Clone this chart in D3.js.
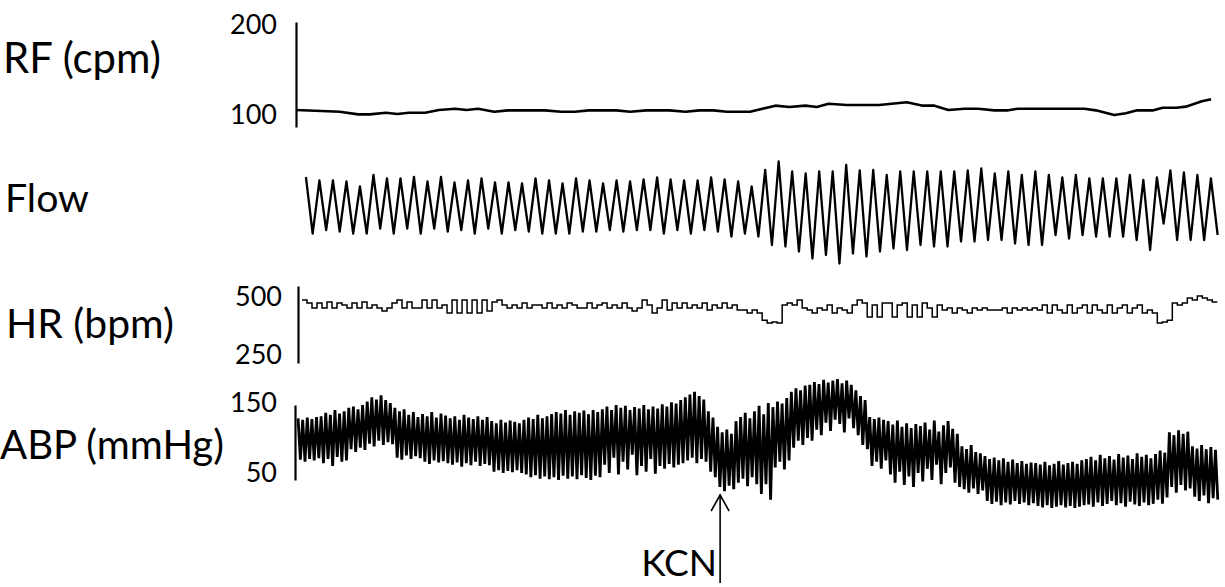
<!DOCTYPE html>
<html>
<head>
<meta charset="utf-8">
<script src="https://cdn.jsdelivr.net/npm/d3@7"></script>
<style>
  body { margin: 0; background: #fff; }
  svg { display: block; }
</style>
</head>
<body>
<svg id="chart" width="1225" height="587"></svg>
<script>
// ---- data (time in s) ----
var rfTime = [0,1.1,1.9,2.7,3.2,3.9,4.4,4.9,5.6,6.2,6.9,7.4,7.9,8.6,9.2,10.8,11.5,12.1,12.7,13.9,14.5,15.2,16.2,16.9,17.5,18.1,18.7,19.7,20.8,21.4,22.1,22.6,23.1,23.9,25.3,26.5,27.2,27.7,28.3,29.0,29.6,30.3,30.9,31.3,34.2,34.7,35.5,36.0,36.5,37.2,37.6,38.2,38.6,39.3,39.7];
var rfValue = [105.6,104.4,103.7,100.7,100.7,102.6,101.1,102.6,102.6,105.6,107.0,105.6,107.0,103.7,105.2,105.2,103.7,103.7,105.2,105.2,103.7,105.2,105.2,103.7,105.2,105.2,103.7,103.7,110.4,108.9,110.4,108.9,112.6,111.1,111.1,114.1,110.4,110.4,105.6,107.0,107.0,105.2,105.2,107.0,107.0,105.2,100.0,101.9,105.2,105.2,108.1,108.1,109.3,115.2,117.4];
var rfTicks = [100, 200];

// flow: one peak and one trough per breath (arbitrary units)
var flowStart = 0.43, flowHalfStep = 0.293;
var flowPeak = [70,63,63,61,51,74,67,67,70,61,70,59,63,67,59,59,57,67,63,57,67,63,
  57,63,61,65,69,65,63,63,69,65,61,51,84,101,81,77,81,81,94,83,84,74,81,81,
  81,81,81,83,87,77,81,74,81,74,69,74,67,67,67,74,64,69,83,79,74,67];
var flowTrough = [-43,-36,-39,-43,-43,-33,-43,-33,-43,-33,-39,-36,-43,-33,-43,-36,-39,-43,-43,-43,-39,
  -39,-36,-39,-36,-36,-43,-36,-43,-36,-39,-49,-43,-49,-66,-69,-79,-93,-86,-103,-83,-89,-79,-73,-76,
  -66,-69,-69,-59,-59,-56,-56,-63,-66,-66,-46,-53,-46,-49,-49,-49,-56,-76,-23,-56,-56,-56,-46];

// heart rate, one value per sample step (bpm)
var hrStart = 0.26, hrStep = 0.217;
var hrValue = [487,474,
  453,474,453,478,453,474,466,453,474,453,478,453,466,
  453,440,453,474,
  487,453,478,453,453,487,453,487,453,466,
  431,487,431,487,431,487,431,487,440,478,
  487,466,453,
  466,453,474,453,466,466,453,474,453,466,453,474,466,453,453,474,453,466,474,453,466,453,474,453,
  440,453,487,466,431,453,487,444,474,453,
  474,453,466,453,474,444,466,453,474,453,466,444,
  444,431,444,
  431,400,388,392,388,
  466,474,466,
  487,453,444,
  431,453,444,466,431,453,444,431,466,
  487,
  474,414,466,414,474,474,414,466,474,414,466,414,474,453,414,466,
  444,453,431,453,444,431,453,444,453,444,444,444,453,431,453,444,453,444,453,444,
  466,431,466,444,431,466,431,453,466,431,466,444,431,466,431,453,466,431,453,466,431,444,431,
  388,392,400,
  474,466,474,
  496,487,504,496,487,478];
var hrTicks = [250, 500];

// arterial pressure, systolic / diastolic per beat (mmHg)
var abpStart = 0.09, abpBeat = 0.2;
var abpSys = [128,126,129,127,130, 131,136,133,140,135,138, 143,145,141,147, 152,158,155,161,154,150,
  143,138,141,133,137,130, 134,131,137,129,135,132, 128,131,126,133,129,127,131,126,130,
  124,121,126,122,125,123,121, 126,129,127,133,128,131, 134,137,135,140,133,138,136,139,134,140,137,
  141,145,140,147,143,146,140,144,142,147,141,145, 142,148,145,151,149,154, 158,162,166,160,155,
  138,129, 116,108,112,106, 124,130,136,128,138, 146,134,150, 144,152,149,157, 166,171,168,175,
  176,180,177,183,179,182, 184,178,182,176, 168,160,154, 130,127,129,126,
  124,119,125,116,121,114,120,117, 122,112,125,109,118,124,113,106, 88,84,90,80,78,
  74,70,72,68,71,66,69,64,67,63,65, 64,62,66,61,63,67,62,64,66,63,68,
  70,73,68,76,71,74,69,77,72,75,70,78,73,76,71, 77,82,79, 108,104,111,106,109, 88,85,90,84,87,83];
var abpDia = [69,66,70,68,71, 64,70,60,73,66,68, 84,80,86,83, 92,88,96,90,94,91,
  72,69,75,70,74,71, 66,63,68,65,67,64, 62,65,59,64,61,66,60,63,61,
  52,54,50,53,51,54,50, 48,44,47,42,45,41, 44,40,46,42,45,41,47,43,40,46,44,
  62,50,72,48,66,55,76,47,60,52,70,49, 60,56,63,58,62,64, 68,72,64,70,66,
  52,44, 30,24,32,27, 36,42,31,44,34, 20,34,12, 58,66,55,68, 86,96,90,100,
  96,112,104,122,110,126, 120,108,128,114, 104,90,84, 60,66,56,68,
  48,36,52,33,45,30,50,38, 56,40,62,34,50,58,36,30, 27,22,28,20,25,
  10,6,9,4,8,5,10,6,8,4,7, 3,1,4,0,2,4,1,3,0,2,4,
  5,2,8,3,6,10,4,7,2,9,5,3,8,4,6, 12,6,15, 30,22,33,25,28, 16,10,18,7,14,12];
var abpTicks = [50, 150];

var kcnTime = 18.4;
var labels = ['RF (cpm)', 'Flow', 'HR (bpm)', 'ABP (mmHg)'];

// ---- layout ----
var svg = d3.select('#chart');
var FONT = 'Lato, "Open Sans", sans-serif';

var x = d3.scaleLinear().domain([0, 40]).range([296, 1218]);
var yRF = d3.scaleLinear().domain([86.7, 203.3]).range([127, 22]);
var yFlow = d3.scaleLinear().domain([-100, 100]).range([262, 162]);
var yHR = d3.scaleLinear().domain([215.5, 547.4]).range([363, 286]);
var yABP = d3.scaleLinear().domain([40, 147.1]).range([480, 405]);

function fitText(sel, width) {
    var w = sel.node().getComputedTextLength();
    var fs = parseFloat(sel.attr('font-size'));
    sel.attr('font-size', fs * width / w);
    return sel;
}

// row titles (a bit wider than the original, Lato is broader than the source font)
var titlePos = [[3, 73, 158], [5, 212, 84], [6, 338, 168], [0, 459, 224]];
labels.forEach(function (t, i) {
    var p = titlePos[i];
    fitText(svg.append('text')
        .attr('x', p[0]).attr('y', p[1])
        .attr('font-family', FONT).attr('font-size', 40)
        .text(t), p[2]);
});

// tick label size from "200"
var probe = svg.append('text').attr('font-family', FONT).attr('font-size', 30).text('200');
fitText(probe, 47);
var tickFs = parseFloat(probe.attr('font-size'));
probe.remove();

function drawAxis(scale, ticks, xPos, pad) {
    var g = svg.append('g')
        .attr('transform', 'translate(' + xPos + ',0)')
        .call(d3.axisLeft(scale).tickValues(ticks).tickSize(0).tickPadding(pad));
    g.select('.domain').attr('stroke', '#000').attr('stroke-width', 2.2);
    g.selectAll('text')
        .attr('font-family', FONT)
        .attr('font-size', tickFs)
        .attr('fill', '#000');
}
drawAxis(yRF, rfTicks, 296, 19);
drawAxis(yHR, hrTicks, 298, 16);
drawAxis(yABP, abpTicks, 295, 18);

// RF
svg.append('path')
    .datum(d3.zip(rfTime, rfValue))
    .attr('fill', 'none').attr('stroke', '#000').attr('stroke-width', 2.6)
    .attr('stroke-linejoin', 'round')
    .attr('d', d3.line().x(function (d) { return x(d[0]); }).y(function (d) { return yRF(d[1]); }));

// Flow
var flowPts = [];
flowPeak.forEach(function (p, i) {
    flowPts.push([flowStart + 2 * i * flowHalfStep, p]);
    flowPts.push([flowStart + (2 * i + 1) * flowHalfStep, flowTrough[i]]);
});
svg.append('path')
    .datum(flowPts)
    .attr('fill', 'none').attr('stroke', '#000').attr('stroke-width', 2.3)
    .attr('stroke-linejoin', 'round')
    .attr('d', d3.line().x(function (d) { return x(d[0]); }).y(function (d) { return yFlow(d[1]); }));

// HR
var hrPts = hrValue.map(function (v, i) { return [hrStart + i * hrStep, v]; });
hrPts.push([hrStart + hrValue.length * hrStep, hrValue[hrValue.length - 1]]);
svg.append('path')
    .datum(hrPts)
    .attr('fill', 'none').attr('stroke', '#000').attr('stroke-width', 1.5)
    .attr('d', d3.line().curve(d3.curveStepAfter)
        .x(function (d) { return x(d[0]); }).y(function (d) { return yHR(d[1]); }));

// ABP
var abpPts = [];
abpSys.forEach(function (s, i) {
    abpPts.push([abpStart + i * abpBeat, s]);
    abpPts.push([abpStart + (i + 0.5) * abpBeat, abpDia[i]]);
});
svg.append('path')
    .datum(abpPts)
    .attr('fill', 'none').attr('stroke', '#000').attr('stroke-width', 2.8)
    .attr('d', d3.line().x(function (d) { return x(d[0]); }).y(function (d) { return yABP(d[1]); }));

// KCN marker
var kx = x(kcnTime);
var arrow = svg.append('g').attr('stroke', '#000').attr('stroke-width', 1.6).attr('fill', 'none');
arrow.append('line').attr('x1', kx).attr('x2', kx).attr('y1', 495).attr('y2', 583);
arrow.append('polyline').attr('points', [[kx - 9, 511], [kx, 495], [kx + 9, 511]].join(' '));
fitText(svg.append('text')
    .attr('x', kx - 3).attr('y', 576).attr('text-anchor', 'end')
    .attr('font-family', FONT).attr('font-size', 44)
    .text('KCN'), 76);
</script>
</body>
</html>
